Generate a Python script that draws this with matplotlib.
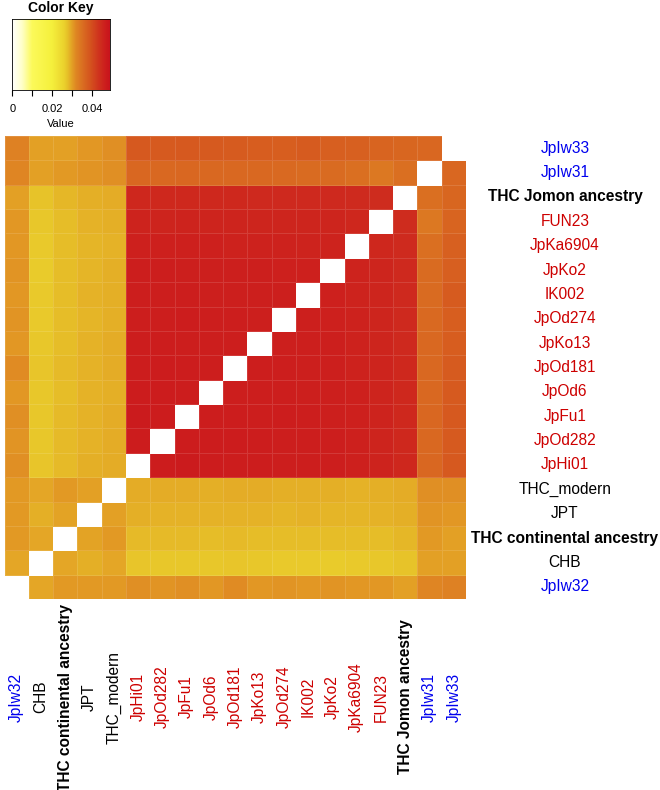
import numpy as np
import matplotlib
matplotlib.use('Agg')
import matplotlib.pyplot as plt
from matplotlib.colors import LinearSegmentedColormap
from matplotlib.transforms import blended_transform_factory

plt.rcParams['font.family'] = ['Liberation Sans', 'DejaVu Sans']

# порядок столбцов слева направо (строки идут в обратном порядке)
labels = ['JpIw32', 'CHB', 'THC continental ancestry', 'JPT', 'THC_modern',
          'JpHi01', 'JpOd282', 'JpFu1', 'JpOd6', 'JpOd181', 'JpKo13', 'JpOd274',
          'IK002', 'JpKo2', 'JpKa6904', 'FUN23', 'THC Jomon ancestry',
          'JpIw31', 'JpIw33']
label_groups = ['iw', 'mod', 'anc', 'mod', 'mod',
                'jom', 'jom', 'jom', 'jom', 'jom', 'jom', 'jom',
                'jom', 'jom', 'jom', 'jom', 'anc', 'iw', 'iw']

# нижний треугольник (симметричная матрица)
lower = [
    [],
    [0.0295],
    [0.0305, 0.0295],
    [0.0305, 0.0290, 0.0298],
    [0.0305, 0.0295, 0.0305, 0.0300],
    [0.0312, 0.0272, 0.0282, 0.0290, 0.0292],
    [0.0310, 0.0270, 0.0282, 0.0288, 0.0292, 0.0470],
    [0.0312, 0.0270, 0.0283, 0.0289, 0.0291, 0.0471, 0.0470],
    [0.0308, 0.0271, 0.0281, 0.0288, 0.0290, 0.0469, 0.0470, 0.0468],
    [0.0316, 0.0272, 0.0282, 0.0289, 0.0292, 0.0468, 0.0469, 0.0468, 0.0467],
    [0.0308, 0.0270, 0.0281, 0.0288, 0.0291, 0.0468, 0.0468, 0.0467, 0.0467, 0.0466],
    [0.0309, 0.0269, 0.0280, 0.0287, 0.0290, 0.0467, 0.0467, 0.0468, 0.0466, 0.0466, 0.0465],
    [0.0307, 0.0268, 0.0281, 0.0288, 0.0290, 0.0466, 0.0467, 0.0466, 0.0465, 0.0465, 0.0464, 0.0464],
    [0.0309, 0.0267, 0.0280, 0.0287, 0.0290, 0.0466, 0.0466, 0.0465, 0.0465, 0.0464, 0.0464, 0.0463, 0.0463],
    [0.0307, 0.0268, 0.0280, 0.0287, 0.0289, 0.0463, 0.0463, 0.0462, 0.0462, 0.0461, 0.0460, 0.0460, 0.0459, 0.0458],
    [0.0308, 0.0270, 0.0281, 0.0288, 0.0290, 0.0458, 0.0457, 0.0458, 0.0457, 0.0456, 0.0455, 0.0455, 0.0454, 0.0454, 0.0452],
    [0.0300, 0.0274, 0.0284, 0.0290, 0.0292, 0.0452, 0.0451, 0.0451, 0.0450, 0.0450, 0.0449, 0.0449, 0.0448, 0.0448, 0.0446, 0.0445],
    [0.0322, 0.0300, 0.0305, 0.0310, 0.0312, 0.0362, 0.0361, 0.0362, 0.0361, 0.0360, 0.0360, 0.0358, 0.0357, 0.0357, 0.0352, 0.0340, 0.0352],
    [0.0328, 0.0300, 0.0300, 0.0308, 0.0312, 0.0383, 0.0382, 0.0383, 0.0381, 0.0380, 0.0378, 0.0376, 0.0380, 0.0374, 0.0372, 0.0366, 0.0365, 0.0362],
]

vmax = 0.049
key_ticks = [0, 0.01, 0.02, 0.03, 0.04]
key_ticklabels = ['0', '', '0.02', '', '0.04']

n = len(labels)
mat = np.full((n, n), np.nan)
for i, row in enumerate(lower):
    for j, v in enumerate(row):
        mat[i, j] = v
        mat[j, i] = v

# цветовая шкала
stops = [(0.000, '#FFFFFF'), (0.005, '#FFFFC8'), (0.010, '#FCFA5A'),
         (0.020, '#F5F03C'), (0.026, '#EBD22D'), (0.028, '#E6BE28'),
         (0.030, '#E3A025'), (0.032, '#DF8723'), (0.036, '#D96921'),
         (0.039, '#D5551E'), (0.043, '#D0361E'), (0.047, '#CC1C1D'),
         (0.049, '#C8141C')]
cmap = LinearSegmentedColormap.from_list('key', [(v / vmax, c) for v, c in stops])
cmap.set_bad('white')

colors = {'iw': '#0000EE', 'jom': '#CD0000', 'mod': 'black', 'anc': 'black'}

fig = plt.figure(figsize=(6.6, 7.9), dpi=100)

# тепловая карта
ax = fig.add_axes([4.5 / 660, 1 - 599 / 790, 461.5 / 660, 463 / 790])
x = np.arange(n + 1)
ax.pcolormesh(x, x, np.ma.masked_invalid(mat), cmap=cmap, vmin=0, vmax=vmax,
              edgecolors=(1, 1, 1, 0.12), linewidth=0.4)
ax.set_xlim(0, n)
ax.set_ylim(0, n)
ax.axis('off')

right_tr = blended_transform_factory(fig.transFigure, ax.transData)
bottom_tr = blended_transform_factory(ax.transData, fig.transFigure)
for k, (lab, g) in enumerate(zip(labels, label_groups)):
    w = 'bold' if g == 'anc' else 'normal'
    ax.text(565 / 660, k + 0.5, lab, transform=right_tr,
            ha='center', va='center', fontsize=11.2, color=colors[g], fontweight=w)
    ax.text(k + 0.5, 1 - 697 / 790, lab, transform=bottom_tr,
            ha='center', va='center', rotation=90, fontsize=11.2, color=colors[g], fontweight=w)

# легенда цвета
kax = fig.add_axes([12.3 / 660, 1 - 90 / 790, 97.7 / 660, 71 / 790])
grad = np.linspace(0, vmax, 256).reshape(1, -1)
kax.imshow(grad, aspect='auto', cmap=cmap, vmin=0, vmax=vmax, extent=[0, vmax, 0, 1])
kax.set_yticks([])
kax.set_xticks(key_ticks)
kax.set_xticklabels(key_ticklabels, fontsize=8)
kax.tick_params(axis='x', length=4, width=0.8, pad=6)
kax.set_xlabel('Value', fontsize=8, labelpad=4)
kax.set_title('Color Key', fontsize=10, fontweight='bold', pad=5)
for s in kax.spines.values():
    s.set_linewidth(0.6)

fig.savefig('out.png', dpi=100)
